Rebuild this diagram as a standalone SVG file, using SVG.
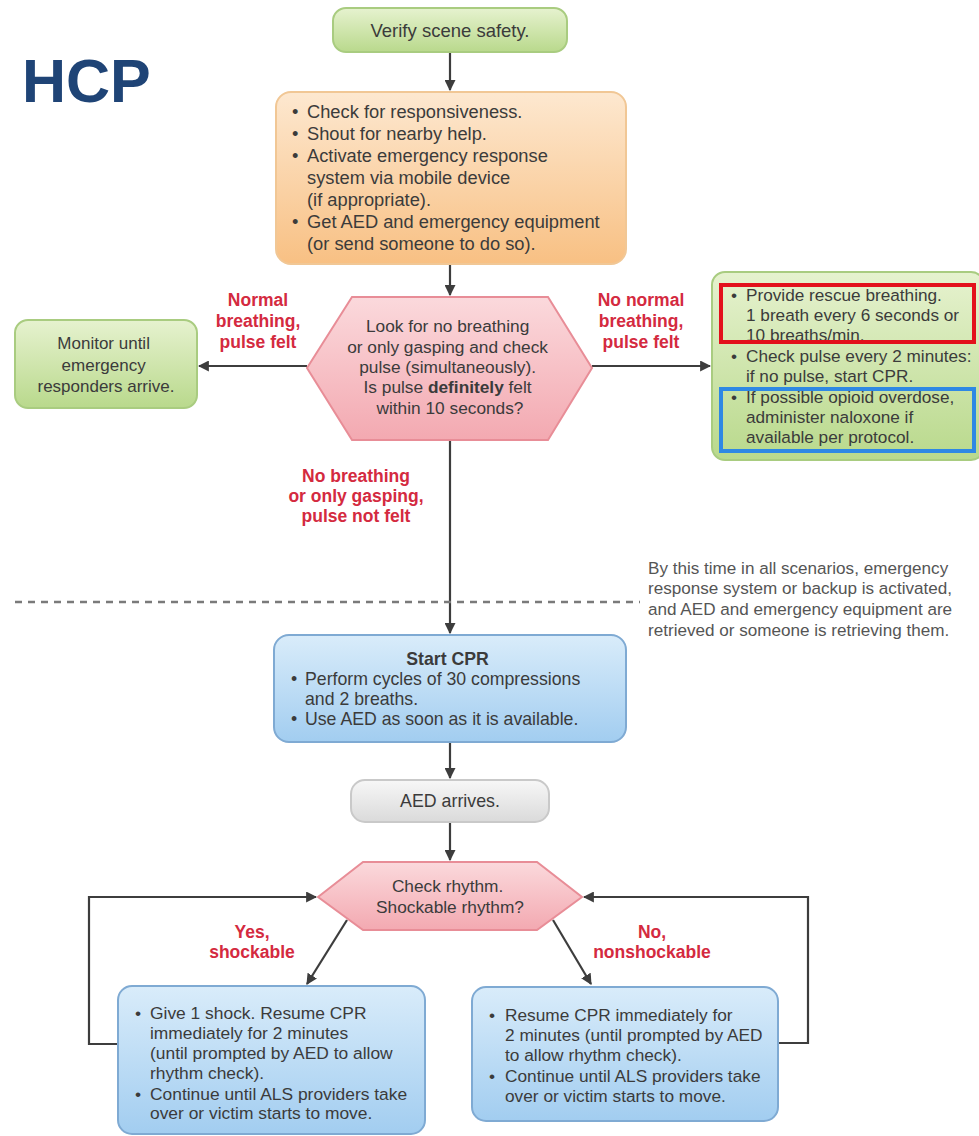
<svg xmlns="http://www.w3.org/2000/svg" width="979" height="1136" viewBox="0 0 979 1136">
<defs>
<linearGradient id="gGreen" x1="0" y1="0" x2="0" y2="1"><stop offset="0" stop-color="#e6f2cf"/><stop offset="1" stop-color="#b9d98c"/></linearGradient>
<linearGradient id="gOrange" x1="0" y1="0" x2="0" y2="1"><stop offset="0" stop-color="#fde8d0"/><stop offset="1" stop-color="#f8c083"/></linearGradient>
<linearGradient id="gPink" x1="0" y1="0" x2="0" y2="1"><stop offset="0" stop-color="#fbd9dc"/><stop offset="1" stop-color="#f3a9b1"/></linearGradient>
<linearGradient id="gBlue" x1="0" y1="0" x2="0" y2="1"><stop offset="0" stop-color="#d9ecfa"/><stop offset="1" stop-color="#a2cdf0"/></linearGradient>
<linearGradient id="gGray" x1="0" y1="0" x2="0" y2="1"><stop offset="0" stop-color="#f7f7f7"/><stop offset="1" stop-color="#dadada"/></linearGradient>
<marker id="arr" viewBox="0 0 10 10" refX="9" refY="5" markerWidth="5" markerHeight="5" orient="auto"><path d="M0,0 L10,5 L0,10 z" fill="#3d3d3d"/></marker>
<style>
.t{font-family:"Liberation Sans",Arial,sans-serif;fill:#3b3b3b}
.c{text-anchor:middle}
.b{font-weight:bold}
.lbl{font-family:"Liberation Sans",Arial,sans-serif;font-size:17.5px;font-weight:bold;fill:#d42a40;text-anchor:middle}
.con{stroke:#3d3d3d;stroke-width:2.2;fill:none}
.green{fill:url(#gGreen);stroke:#a9cc80;stroke-width:2}
.orange{fill:url(#gOrange);stroke:#f1c795;stroke-width:2}
.pink{fill:url(#gPink);stroke:#e88d97;stroke-width:2}
.blue{fill:url(#gBlue);stroke:#7faad3;stroke-width:2}
.gray{fill:url(#gGray);stroke:#c9c9c9;stroke-width:2}
</style>
</defs>
<rect width="979" height="1136" fill="#ffffff"/>
<text x="22" y="102" font-family="Liberation Sans,Arial,sans-serif" font-size="61" font-weight="bold" fill="#1f4476">HCP</text>

<g id="connectors">
<path class="con" d="M450,52 V90" marker-end="url(#arr)"/>
<path class="con" d="M450,264 V295" marker-end="url(#arr)"/>
<path class="con" d="M307,366 H199" marker-end="url(#arr)"/>
<path class="con" d="M592,366 H710" marker-end="url(#arr)"/>
<path class="con" d="M450,440 V633" marker-end="url(#arr)"/>
<path class="con" d="M450,742 V778" marker-end="url(#arr)"/>
<path class="con" d="M450,822 V860" marker-end="url(#arr)"/>
<path class="con" d="M347,920 L307,984" marker-end="url(#arr)"/>
<path class="con" d="M553,920 L591,984" marker-end="url(#arr)"/>
<path class="con" d="M118,1044 H89 V897 H316" marker-end="url(#arr)"/>
<path class="con" d="M778,1043 H808 V897 H584" marker-end="url(#arr)"/>
<line x1="15" y1="602" x2="640" y2="602" stroke="#7a7a7a" stroke-width="2.5" stroke-dasharray="7 6"/>
</g>

<g id="lbl-normal"><text class="lbl"><tspan x="258" y="306">Normal</tspan><tspan x="258" y="327">breathing,</tspan><tspan x="258" y="348">pulse felt</tspan></text></g>
<g id="lbl-nonormal"><text class="lbl"><tspan x="641" y="306">No normal</tspan><tspan x="641" y="327">breathing,</tspan><tspan x="641" y="348">pulse felt</tspan></text></g>
<g id="lbl-nobreathing"><text class="lbl"><tspan x="356" y="482">No breathing</tspan><tspan x="356" y="502">or only gasping,</tspan><tspan x="356" y="522">pulse not felt</tspan></text></g>
<g id="lbl-yes"><text class="lbl"><tspan x="252" y="938">Yes,</tspan><tspan x="252" y="958">shockable</tspan></text></g>
<g id="lbl-no"><text class="lbl"><tspan x="652" y="938">No,</tspan><tspan x="652" y="958">nonshockable</tspan></text></g>

<g id="verify">
<rect class="green" x="333" y="8" width="234" height="44" rx="13"/>
<text class="t c" x="450" y="37" font-size="18.5">Verify scene safety.</text>
</g>

<g id="check">
<rect class="orange" x="276" y="92" width="350" height="172" rx="15"/>
<text class="t" font-size="18.3">
<tspan x="292" y="118">•</tspan><tspan x="307" y="118">Check for responsiveness.</tspan>
<tspan x="292" y="140">•</tspan><tspan x="307" y="140">Shout for nearby help.</tspan>
<tspan x="292" y="162">•</tspan><tspan x="307" y="162">Activate emergency response</tspan>
<tspan x="307" y="184">system via mobile device</tspan>
<tspan x="307" y="206">(if appropriate).</tspan>
<tspan x="292" y="228">•</tspan><tspan x="307" y="228">Get AED and emergency equipment</tspan>
<tspan x="307" y="250">(or send someone to do so).</tspan>
</text>
</g>

<g id="look">
<polygon class="pink" points="307,368 352,297 548,297 592,368 548,440 352,440"/>
<text class="t c" font-size="17.3">
<tspan x="450" y="332">Look for no breathing</tspan>
<tspan x="450" y="353">or only gasping and check</tspan>
<tspan x="450" y="373">pulse (simultaneously).</tspan>
<tspan x="450" y="393">Is pulse <tspan font-weight="bold">definitely</tspan> felt</tspan>
<tspan x="450" y="414">within 10 seconds?</tspan>
</text>
</g>

<g id="monitor">
<rect class="green" x="15" y="320" width="182" height="88" rx="13"/>
<text class="t c" font-size="17">
<tspan x="106" y="349">Monitor until</tspan>
<tspan x="106" y="371">emergency</tspan>
<tspan x="106" y="392">responders arrive.</tspan>
</text>
</g>

<g id="rescue">
<rect class="green" x="712" y="272" width="272" height="188" rx="13"/>
<text class="t" font-size="17.2">
<tspan x="731" y="301">•</tspan><tspan x="746" y="301">Provide rescue breathing.</tspan>
<tspan x="746" y="321">1 breath every 6 seconds or</tspan>
<tspan x="746" y="341">10 breaths/min.</tspan>
<tspan x="731" y="362">•</tspan><tspan x="746" y="362">Check pulse every 2 minutes:</tspan>
<tspan x="746" y="382">if no pulse, start CPR.</tspan>
<tspan x="731" y="403">•</tspan><tspan x="746" y="403">If possible opioid overdose,</tspan>
<tspan x="746" y="423">administer naloxone if</tspan>
<tspan x="746" y="443">available per protocol.</tspan>
</text>
<rect x="721" y="285" width="253" height="57" fill="none" stroke="#e3101c" stroke-width="4"/>
<rect x="721" y="389" width="253" height="62" fill="none" stroke="#2e88e4" stroke-width="4"/>
</g>

<g id="note">
<text class="t" font-size="17.1" style="fill:#555">
<tspan x="648" y="574">By this time in all scenarios, emergency</tspan>
<tspan x="648" y="594">response system or backup is activated,</tspan>
<tspan x="648" y="615">and AED and emergency equipment are</tspan>
<tspan x="648" y="636">retrieved or someone is retrieving them.</tspan>
</text>
</g>

<g id="startcpr">
<rect class="blue" x="274" y="635" width="352" height="107" rx="15"/>
<text class="t" font-size="17.7">
<tspan class="b" x="450" y="665" text-anchor="middle">Start CPR</tspan>
<tspan x="291" y="685">•</tspan><tspan x="305" y="685">Perform cycles of 30 compressions</tspan>
<tspan x="305" y="705">and 2 breaths.</tspan>
<tspan x="291" y="725">•</tspan><tspan x="305" y="725">Use AED as soon as it is available.</tspan>
</text>
</g>

<g id="aed">
<rect class="gray" x="351" y="780" width="198" height="42" rx="14"/>
<text class="t c" x="450" y="807" font-size="17.8">AED arrives.</text>
</g>

<g id="rhythm">
<polygon class="pink" points="318,897 363,862 537,862 582,897 537,930 363,930"/>
<text class="t c" font-size="17.3">
<tspan x="450" y="892">Check rhythm.</tspan>
<tspan x="450" y="913">Shockable rhythm?</tspan>
</text>
</g>

<g id="shock">
<rect class="blue" x="118" y="986" width="307" height="148" rx="14"/>
<text class="t" font-size="17.4">
<tspan x="135" y="1019">•</tspan><tspan x="150" y="1019">Give 1 shock. Resume CPR</tspan>
<tspan x="150" y="1039">immediately for 2 minutes</tspan>
<tspan x="150" y="1059">(until prompted by AED to allow</tspan>
<tspan x="150" y="1079">rhythm check).</tspan>
<tspan x="135" y="1100">•</tspan><tspan x="150" y="1100">Continue until ALS providers take</tspan>
<tspan x="150" y="1119">over or victim starts to move.</tspan>
</text>
</g>

<g id="resume">
<rect class="blue" x="472" y="987" width="306" height="134" rx="14"/>
<text class="t" font-size="17.3">
<tspan x="489" y="1021">•</tspan><tspan x="505" y="1021">Resume CPR immediately for</tspan>
<tspan x="505" y="1041">2 minutes (until prompted by AED</tspan>
<tspan x="505" y="1061">to allow rhythm check).</tspan>
<tspan x="489" y="1082">•</tspan><tspan x="505" y="1082">Continue until ALS providers take</tspan>
<tspan x="505" y="1102">over or victim starts to move.</tspan>
</text>
</g>
</svg>
